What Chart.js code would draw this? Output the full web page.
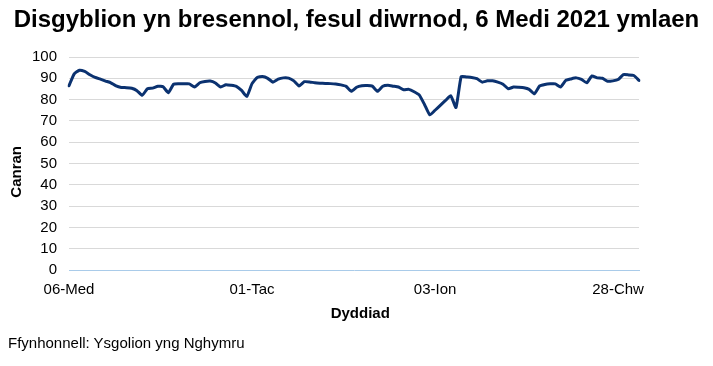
<!DOCTYPE html>
<html><head><meta charset="utf-8">
<script src="https://cdn.jsdelivr.net/npm/chart.js@4.4.0/dist/chart.umd.min.js"></script>
<style>
html,body{margin:0;padding:0;background:#fff;}
#wrap{position:relative;width:713px;height:366px;}
#source{position:absolute;left:8px;top:334px;font:15px "Liberation Sans",Arial,sans-serif;color:#000;white-space:nowrap;}
</style></head><body>
<div id="wrap"><canvas id="c" width="713" height="366"></canvas><div id="source">Ffynhonnell: Ysgolion yng Nghymru</div></div>
<script>
const chartTitle = 'Disgyblion yn bresennol, fesul diwrnod, 6 Medi 2021 ymlaen';
const yTitle = 'Canran';
const xTitle = 'Dyddiad';

const categories = [
 '06-Med','07-Med','08-Med','09-Med','10-Med',
 '13-Med','14-Med','15-Med','16-Med','17-Med',
 '20-Med','21-Med','22-Med','23-Med','24-Med',
 '27-Med','28-Med','29-Med','30-Med','01-Hyd',
 '04-Hyd','05-Hyd','06-Hyd','07-Hyd','08-Hyd',
 '11-Hyd','12-Hyd','13-Hyd','14-Hyd','15-Hyd',
 '18-Hyd','19-Hyd','20-Hyd','21-Hyd','22-Hyd',
 '01-Tac','02-Tac','03-Tac','04-Tac','05-Tac',
 '08-Tac','09-Tac','10-Tac','11-Tac','12-Tac',
 '15-Tac','16-Tac','17-Tac','18-Tac','19-Tac',
 '22-Tac','23-Tac','24-Tac','25-Tac','26-Tac',
 '29-Tac','30-Tac','01-Rha','02-Rha','03-Rha',
 '06-Rha','07-Rha','08-Rha','09-Rha','10-Rha',
 '13-Rha','14-Rha','15-Rha','16-Rha','17-Rha',
 '03-Ion','04-Ion','05-Ion','06-Ion','07-Ion',
 '10-Ion','11-Ion','12-Ion','13-Ion','14-Ion',
 '17-Ion','18-Ion','19-Ion','20-Ion','21-Ion',
 '24-Ion','25-Ion','26-Ion','27-Ion','28-Ion',
 '31-Ion','01-Chw','02-Chw','03-Chw','04-Chw',
 '07-Chw','08-Chw','09-Chw','10-Chw','11-Chw',
 '14-Chw','15-Chw','16-Chw','17-Chw','18-Chw',
 '28-Chw','01-Maw','02-Maw','03-Maw','04-Maw'
];

const attendance = [
 86.5, 92.1, 93.8, 93.2, 91.7, 90.4, 89.6, 88.7, 87.9, 86.4,
 85.7, 85.6, 85.3, 84.2, 82.0, 85.1, 85.4, 86.3, 86.0, 83.2,
 87.2, 87.4, 87.4, 87.4, 85.9, 87.9, 88.5, 88.7, 87.8, 85.9,
 87.0, 86.7, 86.2, 84.3, 81.5, 87.5, 90.4, 90.8, 90.0, 88.2,
 89.6, 90.2, 90.1, 88.8, 86.4, 88.4, 88.3, 87.9, 87.7, 87.6,
 87.5, 87.3, 86.9, 86.2, 83.9, 85.8, 86.5, 86.6, 86.3, 83.9,
 86.3, 86.7, 86.3, 85.9, 84.6, 84.8, 83.7, 82.1, 77.6, 72.8,
 75.0, 77.3, 79.6, 81.8, 76.3, 90.8, 90.6, 90.4, 89.8, 88.2,
 88.8, 88.8, 88.2, 87.2, 85.1, 85.9, 85.8, 85.6, 84.8, 82.7,
 86.4, 87.1, 87.4, 87.4, 85.9, 89.0, 89.7, 90.2, 89.5, 87.9,
 91.1, 90.2, 90.0, 88.6, 88.8, 89.4, 91.7, 91.6, 91.3, 89.0
];

const tickLabels = ['06-Med','01-Tac','03-Ion','28-Chw'];
const yTicks = [0,10,20,30,40,50,60,70,80,90,100];

const FONT = '"Liberation Sans", Arial, sans-serif';

new Chart(document.getElementById('c'), {
  type: 'line',
  data: {
    labels: categories,
    datasets: [{
      data: attendance,
      borderColor: '#0b3270',
      borderWidth: 3,
      pointRadius: 0,
      tension: 0.15,
      borderJoinStyle: 'round',
      borderCapStyle: 'round',
      fill: false
    }]
  },
  options: {
    responsive: false,
    animation: false,
    devicePixelRatio: 1,
    layout: { padding: { left: 0, right: 0, top: 0, bottom: 43 } },
    plugins: {
      legend: { display: false },
      tooltip: { enabled: false },
      title: {
        display: true,
        text: chartTitle,
        color: '#000',
        font: { family: FONT, size: 24, weight: 'bold', lineHeight: 1.2 },
        padding: { top: 6, bottom: 22.2 }
      }
    },
    scales: {
      x: {
        type: 'category',
        offset: false,
        grid: { display: false, drawTicks: false },
        border: { display: true, color: '#a9cbe9', width: 1 },
        ticks: {
          autoSkip: false, maxRotation: 0, minRotation: 0, padding: 11,
          color: '#000', font: { family: FONT, size: 15 },
          callback: function(v, i) { return tickLabels.includes(categories[i]) ? categories[i] : ''; }
        },
        title: { display: true, text: '   ' + xTitle, color: '#000', font: { family: FONT, size: 15, weight: 'bold' }, padding: 0 },
        afterFit: s => { s.height = 53; }
      },
      y: {
        min: 0, max: 100,
        afterBuildTicks: s => { s.ticks = yTicks.map(v => ({ value: v })); },
        grid: {
          drawTicks: false,
          color: c => (c.tick && c.tick.value === 0) ? 'rgba(0,0,0,0)' : '#d9d9d9'
        },
        border: { display: false },
        ticks: { padding: 12, color: '#000', font: { family: FONT, size: 15 } },
        title: { display: true, text: yTitle + '    ', color: '#000', font: { family: FONT, size: 15, weight: 'bold' }, padding: { top: 8, bottom: 0 } },
        afterFit: s => { s.width = 69; }
      },
      yr: {
        position: 'right',
        display: true,
        min: 0, max: 100,
        grid: { display: false, drawTicks: false },
        border: { display: false },
        ticks: { display: false },
        afterFit: s => { s.width = 74; }
      }
    }
  }
});
</script>
</body></html>
